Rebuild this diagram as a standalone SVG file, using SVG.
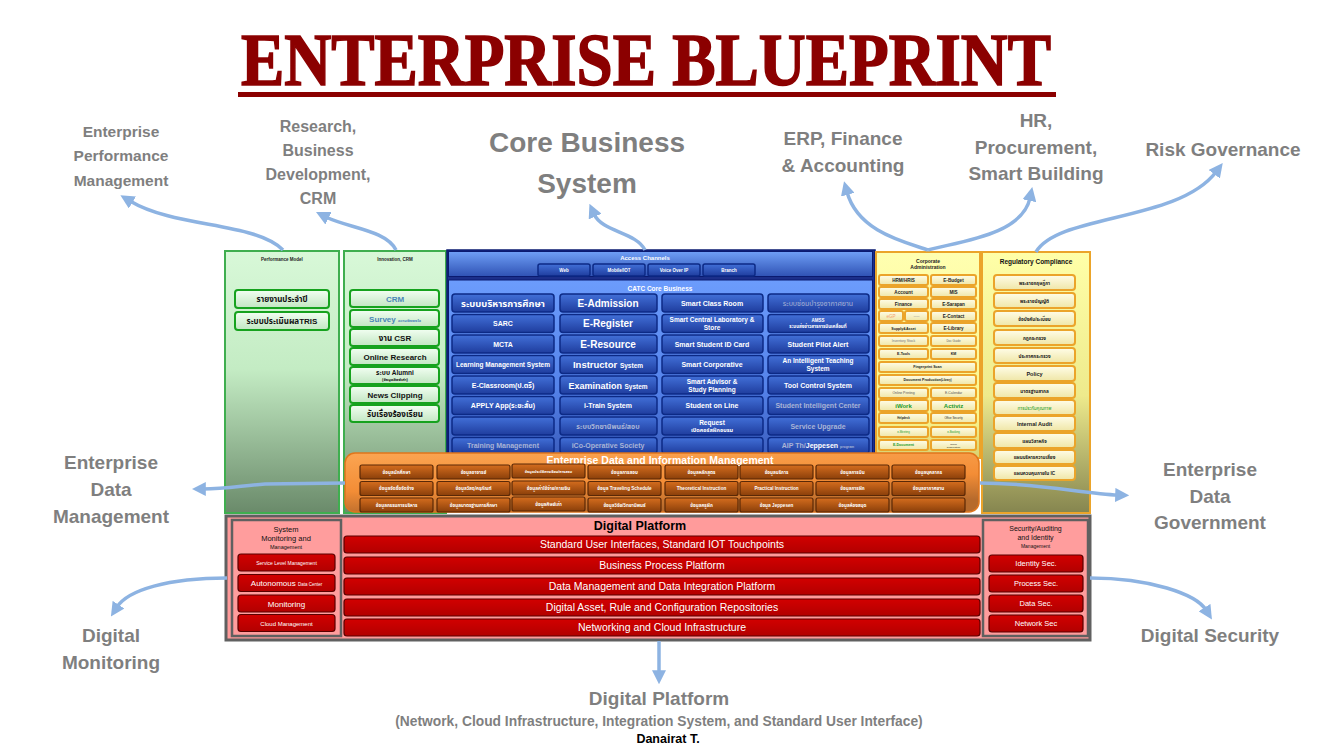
<svg xmlns="http://www.w3.org/2000/svg" width="1333" height="752" viewBox="0 0 1333 752">
  <defs>
    <linearGradient id="gGreenCol" x1="0" y1="0" x2="0" y2="1">
      <stop offset="0" stop-color="#d8f8d8"/>
      <stop offset="0.45" stop-color="#c4ecc4"/>
      <stop offset="1" stop-color="#6a8a6a"/>
    </linearGradient>
    <linearGradient id="gGreenBtn" x1="0" y1="0" x2="0" y2="1">
      <stop offset="0" stop-color="#f2fff2"/>
      <stop offset="1" stop-color="#c2e6c2"/>
    </linearGradient>
    <linearGradient id="gAccess" x1="0" y1="0" x2="0" y2="1">
      <stop offset="0" stop-color="#6f9ff6"/>
      <stop offset="1" stop-color="#2f52b4"/>
    </linearGradient>
    <linearGradient id="gCore" x1="0" y1="0" x2="0" y2="1">
      <stop offset="0" stop-color="#6c9cfc"/>
      <stop offset="0.6" stop-color="#5583ea"/>
      <stop offset="1" stop-color="#3a5cbc"/>
    </linearGradient>
    <linearGradient id="gBlueBtn" x1="0" y1="0" x2="0" y2="1">
      <stop offset="0" stop-color="#4270d8"/>
      <stop offset="1" stop-color="#1f3d9e"/>
    </linearGradient>
    <linearGradient id="gCorp" x1="0" y1="0" x2="0" y2="1">
      <stop offset="0" stop-color="#ffffb0"/>
      <stop offset="0.8" stop-color="#fbf68e"/>
      <stop offset="1" stop-color="#d8d070"/>
    </linearGradient>
    <linearGradient id="gReg" x1="0" y1="0" x2="0" y2="1">
      <stop offset="0" stop-color="#ffffa8"/>
      <stop offset="0.55" stop-color="#eeea8c"/>
      <stop offset="1" stop-color="#85854f"/>
    </linearGradient>
    <linearGradient id="gYellowBtn" x1="0" y1="0" x2="0" y2="1">
      <stop offset="0" stop-color="#fffde8"/>
      <stop offset="1" stop-color="#efe6a6"/>
    </linearGradient>
    <linearGradient id="gOrange" x1="0" y1="0" x2="0.3" y2="1">
      <stop offset="0" stop-color="#fba552"/>
      <stop offset="0.6" stop-color="#f38d36"/>
      <stop offset="1" stop-color="#b66a2c"/>
    </linearGradient>
    <linearGradient id="gBrownBtn" x1="0" y1="0" x2="0" y2="1">
      <stop offset="0" stop-color="#d56d1e"/>
      <stop offset="1" stop-color="#8a3f0a"/>
    </linearGradient>
    <linearGradient id="gRedBtn" x1="0" y1="0" x2="0" y2="1">
      <stop offset="0" stop-color="#d20000"/>
      <stop offset="1" stop-color="#b20000"/>
    </linearGradient>
    <marker id="arrowHead" viewBox="0 0 10 10" refX="2" refY="5" markerWidth="4" markerHeight="4" orient="auto" markerUnits="strokeWidth">
      <path d="M0,0 L10,5 L0,10 z" fill="#8db3e2"/>
    </marker>
    <style>
      text { font-family: "Liberation Sans", "Noto Sans Thai", "Noto Sans", sans-serif; font-weight: bold; text-anchor: middle; }
      .title { font-family: "Liberation Serif", "DejaVu Serif", serif; font-weight: 900; text-anchor: start; fill: #8b0000; stroke: #8b0000; stroke-width: 1.6; }
      .side { fill: #7f7f7f; font-size: 19px; }
      .gcol { fill: url(#gGreenCol); stroke: #3fae4f; stroke-width: 2; }
      .gbtn { fill: url(#gGreenBtn); stroke: #16a21e; stroke-width: 2; }
      .gtxt { font-size: 8px; fill: #111; }
      .bbtn { fill: url(#gBlueBtn); stroke: #0c2a86; stroke-width: 1.5; }
      .btxt { fill: #ffffff; font-size: 7px; }
      .dim { fill: #a9b4d6; }
      .ybtn { fill: url(#gYellowBtn); stroke: #eba42a; stroke-width: 2; }
      .ytxt { fill: #222; font-size: 4.6px; }
      .obtn { fill: url(#gBrownBtn); stroke: #5a2806; stroke-width: 1.2; }
      .otxt { fill: #ffffff; font-size: 4.6px; }
      .rbtn { fill: url(#gRedBtn); stroke: #5a0000; stroke-width: 1.2; }
      .rtxt { fill: #ffffff; font-weight: normal; font-size: 10.5px; }
      .sub { fill: #ff9d9d; stroke: #606060; stroke-width: 2.5; }
      .link { fill: none; stroke: #8db3e2; stroke-width: 3.5; marker-end: url(#arrowHead); }
    </style>
  </defs>

  <rect width="1333" height="752" fill="#ffffff"/>

  <!-- heading -->
  <g id="heading">
    <text class="title" x="241" y="85" font-size="73" textLength="810" lengthAdjust="spacingAndGlyphs">ENTERPRISE BLUEPRINT</text>
    <rect x="238" y="92" width="818" height="5" fill="#8b0000"/>
  </g>

  <!-- outer domain labels -->
  <g id="labels">
    <text class="side" style="font-size:15.5px" x="121" y="137">Enterprise</text>
    <text class="side" style="font-size:15.5px" x="121" y="161">Performance</text>
    <text class="side" style="font-size:15.5px" x="121" y="186">Management</text>
    <text class="side" style="font-size:16px" x="318" y="132">Research,</text>
    <text class="side" style="font-size:16px" x="318" y="156">Business</text>
    <text class="side" style="font-size:16px" x="318" y="180">Development,</text>
    <text class="side" style="font-size:16px" x="318" y="204">CRM</text>
    <text class="side" style="font-size:28px" x="587" y="152">Core Business</text>
    <text class="side" style="font-size:28px" x="587" y="193">System</text>
    <text class="side" x="843" y="145">ERP, Finance</text>
    <text class="side" x="843" y="172">&amp; Accounting</text>
    <text class="side" x="1036" y="127">HR,</text>
    <text class="side" x="1036" y="154">Procurement,</text>
    <text class="side" x="1036" y="180">Smart Building</text>
    <text class="side" x="1223" y="156">Risk Governance</text>
    <text class="side" x="111" y="469">Enterprise</text>
    <text class="side" x="111" y="496">Data</text>
    <text class="side" x="111" y="523">Management</text>
    <text class="side" x="1210" y="476">Enterprise</text>
    <text class="side" x="1210" y="503">Data</text>
    <text class="side" x="1210" y="529">Government</text>
    <text class="side" x="111" y="642">Digital</text>
    <text class="side" x="111" y="669">Monitoring</text>
    <text class="side" x="1210" y="642">Digital Security</text>
    <text class="side" x="659" y="705">Digital Platform</text>
    <text class="side" style="font-size:13.8px" x="659" y="726">(Network, Cloud Infrastructure, Integration System, and Standard User Interface)</text>
    <text style="font-size:12.5px" fill="#000" x="668" y="743">Danairat T.</text>
  </g>

  <!-- Performance Model -->
  <g id="performance-model">
    <rect class="gcol" x="225" y="251" width="114" height="262"/>
    <text x="282" y="261" style="font-size:4.5px" fill="#222">Performance Model</text>
    <rect class="gbtn" x="235" y="290" width="94" height="18" rx="3"/>
    <text class="gtxt" x="282" y="302">รายงานประจำปี</text>
    <rect class="gbtn" x="235" y="312" width="94" height="18" rx="3"/>
    <text class="gtxt" x="282" y="324">ระบบประเมินผลTRIS</text>
  </g>

  <!-- Innovation, CRM -->
  <g id="innovation-crm">
    <rect class="gcol" x="344" y="251" width="102" height="262"/>
    <text x="395" y="261" style="font-size:4.5px" fill="#222">Innovation, CRM</text>
    <rect class="gbtn" x="350" y="290" width="89" height="17" rx="3"/>
    <text class="gtxt" x="395" y="302" style="fill:#4a86b8">CRM</text>
    <rect class="gbtn" x="350" y="310" width="89" height="17" rx="3"/>
    <text class="gtxt" x="395" y="322" style="fill:#4a86b8">Survey <tspan style="font-size:4px">ความพึงพอใจ</tspan></text>
    <rect class="gbtn" x="350" y="329" width="89" height="17" rx="3"/>
    <text class="gtxt" x="395" y="341">งาน CSR</text>
    <rect class="gbtn" x="350" y="348" width="89" height="17" rx="3"/>
    <text class="gtxt" x="395" y="360">Online Research</text>
    <rect class="gbtn" x="350" y="367" width="89" height="17" rx="3"/>
    <text class="gtxt" x="395" y="375" style="font-size:6.5px">ระบบ Alumni</text>
    <text class="gtxt" x="395" y="381" style="font-size:4px">(ข้อมูลศิษย์เก่า)</text>
    <rect class="gbtn" x="350" y="386" width="89" height="17" rx="3"/>
    <text class="gtxt" x="395" y="398">News Clipping</text>
    <rect class="gbtn" x="350" y="405" width="89" height="17" rx="3"/>
    <text class="gtxt" x="395" y="417">รับเรื่องร้องเรียน</text>
  </g>

  <!-- Core Business System -->
  <g id="core-business">
    <rect x="447" y="250" width="428" height="210" fill="#1c2f8a" stroke="#0a1a70" stroke-width="1.5"/>
    <g id="access-channels">
      <rect x="448.5" y="251.5" width="424" height="25" fill="url(#gAccess)" stroke="#0a1a70" stroke-width="1"/>
      <text x="645" y="259.5" class="btxt" style="font-size:6px">Access Channels</text>
      <rect class="bbtn" x="538" y="264" width="52" height="12" rx="2"/>
      <text class="btxt" x="564" y="271.5" style="font-size:4.5px">Web</text>
      <rect class="bbtn" x="593" y="264" width="52" height="12" rx="2"/>
      <text class="btxt" x="619" y="271.5" style="font-size:4.5px">Mobile/IOT</text>
      <rect class="bbtn" x="648" y="264" width="52" height="12" rx="2"/>
      <text class="btxt" x="674" y="271.5" style="font-size:4.5px">Voice Over IP</text>
      <rect class="bbtn" x="703" y="264" width="52" height="12" rx="2"/>
      <text class="btxt" x="729" y="271.5" style="font-size:4.5px">Branch</text>
    </g>
    <rect x="448.5" y="280" width="424" height="178.5" fill="url(#gCore)" stroke="#0a1a70" stroke-width="1"/>
    <text x="660" y="291" class="btxt" style="font-size:6.5px">CATC Core Business</text>

    <!-- row 1 -->
    <rect class="bbtn" x="452" y="294" width="102" height="18" rx="3"/>
    <text class="btxt" x="503" y="306.5" style="font-size:9.5px">ระบบบริหารการศึกษา</text>
    <rect class="bbtn" x="560" y="294" width="97" height="18" rx="3"/>
    <text class="btxt" x="608" y="306.5" style="font-size:10px">E-Admission</text>
    <rect class="bbtn" x="662" y="294" width="101" height="18" rx="3"/>
    <text class="btxt" x="712" y="305.5">Smart Class Room</text>
    <rect class="bbtn" x="768" y="294" width="101" height="18" rx="3"/>
    <text class="btxt dim" x="818" y="305.5" style="font-weight:normal">ระบบซ่อมบำรุงอากาศยาน</text>
    <!-- row 2 -->
    <rect class="bbtn" x="452" y="314.5" width="102" height="18" rx="3"/>
    <text class="btxt" x="503" y="326">SARC</text>
    <rect class="bbtn" x="560" y="314.5" width="97" height="18" rx="3"/>
    <text class="btxt" x="608" y="327" style="font-size:10px">E-Register</text>
    <rect class="bbtn" x="662" y="314.5" width="101" height="18" rx="3"/>
    <text class="btxt" x="712" y="322" style="font-size:6.5px">Smart Central Laboratory  &amp;</text>
    <text class="btxt" x="712" y="330" style="font-size:6.5px">Store</text>
    <rect class="bbtn" x="768" y="314.5" width="101" height="18" rx="3"/>
    <text class="btxt" x="818" y="321.5" style="font-size:4.5px">AMSS</text>
    <text class="btxt" x="818" y="328" style="font-size:4.5px">ระบบส่งข่าวสารการบินเคลื่อนที่</text>
    <!-- row 3 -->
    <rect class="bbtn" x="452" y="335" width="102" height="18" rx="3"/>
    <text class="btxt" x="503" y="346.5">MCTA</text>
    <rect class="bbtn" x="560" y="335" width="97" height="18" rx="3"/>
    <text class="btxt" x="608" y="347.5" style="font-size:10px">E-Resource</text>
    <rect class="bbtn" x="662" y="335" width="101" height="18" rx="3"/>
    <text class="btxt" x="712" y="346.5">Smart Student ID Card</text>
    <rect class="bbtn" x="768" y="335" width="101" height="18" rx="3"/>
    <text class="btxt" x="818" y="346.5">Student Pilot Alert</text>
    <!-- row 4 -->
    <rect class="bbtn" x="452" y="355.5" width="102" height="18" rx="3"/>
    <text class="btxt" x="503" y="367" style="font-size:6.5px">Learning Management System</text>
    <rect class="bbtn" x="560" y="355.5" width="97" height="18" rx="3"/>
    <text class="btxt" x="608" y="368" style="font-size:9.5px">Instructor <tspan style="font-size:6.5px">System</tspan></text>
    <rect class="bbtn" x="662" y="355.5" width="101" height="18" rx="3"/>
    <text class="btxt" x="712" y="367">Smart Corporative</text>
    <rect class="bbtn" x="768" y="355.5" width="101" height="18" rx="3"/>
    <text class="btxt" x="818" y="363" style="font-size:6.5px">An Intelligent Teaching</text>
    <text class="btxt" x="818" y="371" style="font-size:6.5px">System</text>
    <!-- row 5 -->
    <rect class="bbtn" x="452" y="376" width="102" height="18" rx="3"/>
    <text class="btxt" x="503" y="387.5">E-Classroom(ป.ตรี)</text>
    <rect class="bbtn" x="560" y="376" width="97" height="18" rx="3"/>
    <text class="btxt" x="608" y="388.5" style="font-size:9px">Examination <tspan style="font-size:6.5px">System</tspan></text>
    <rect class="bbtn" x="662" y="376" width="101" height="18" rx="3"/>
    <text class="btxt" x="712" y="383.5" style="font-size:6.5px">Smart Advisor &amp;</text>
    <text class="btxt" x="712" y="391.5" style="font-size:6.5px">Study Planning</text>
    <rect class="bbtn" x="768" y="376" width="101" height="18" rx="3"/>
    <text class="btxt" x="818" y="387.5">Tool Control System</text>
    <!-- row 6 -->
    <rect class="bbtn" x="452" y="396.5" width="102" height="18" rx="3"/>
    <text class="btxt" x="503" y="408">APPLY App(ระยะสั้น)</text>
    <rect class="bbtn" x="560" y="396.5" width="97" height="18" rx="3"/>
    <text class="btxt" x="608" y="408">i-Train System</text>
    <rect class="bbtn" x="662" y="396.5" width="101" height="18" rx="3"/>
    <text class="btxt" x="712" y="408">Student on Line</text>
    <rect class="bbtn" x="768" y="396.5" width="101" height="18" rx="3"/>
    <text class="btxt dim" x="818" y="408">Student Intelligent Center</text>
    <!-- row 7 -->
    <rect class="bbtn" x="452" y="417" width="102" height="18" rx="3"/>
    <rect class="bbtn" x="560" y="417" width="97" height="18" rx="3"/>
    <text class="btxt dim" x="608" y="428.5">ระบบวิทยานิพนธ์/สอบ</text>
    <rect class="bbtn" x="662" y="417" width="101" height="18" rx="3"/>
    <text class="btxt" x="712" y="424.5" style="font-size:6.5px">Request</text>
    <text class="btxt" x="712" y="432" style="font-size:5.5px">เปิดคอร์สฝึกอบรม</text>
    <rect class="bbtn" x="768" y="417" width="101" height="18" rx="3"/>
    <text class="btxt dim" x="818" y="428.5">Service Upgrade</text>
    <!-- row 8 -->
    <rect class="bbtn" x="452" y="437.5" width="102" height="16" rx="3"/>
    <text class="btxt dim" x="503" y="448">Training Management</text>
    <rect class="bbtn" x="560" y="437.5" width="97" height="16" rx="3"/>
    <text class="btxt dim" x="608" y="448">iCo-Operative Society</text>
    <rect class="bbtn" x="662" y="437.5" width="101" height="16" rx="3"/>
    <rect class="bbtn" x="768" y="437.5" width="101" height="16" rx="3"/>
    <text class="btxt" x="818" y="448"><tspan class="dim">AIP Th/</tspan>Jeppesen <tspan style="font-size:3.5px" class="dim">program</tspan></text>
  </g>

  <!-- Corporate Administration -->
  <g id="corporate-admin">
    <rect x="876" y="252" width="104" height="206" fill="url(#gCorp)" stroke="#eba42a" stroke-width="2"/>
    <text x="928" y="263" style="font-size:5px" fill="#222">Corporate</text>
    <text x="928" y="269" style="font-size:5px" fill="#222">Administration</text>
    <rect class="ybtn" x="879" y="275" width="49" height="10" rx="2"/><text class="ytxt" x="903.5" y="281.6">HRM/HRIS</text>
    <rect class="ybtn" x="931" y="275" width="45" height="10" rx="2"/><text class="ytxt" x="953.5" y="281.6">E-Budget</text>
    <rect class="ybtn" x="879" y="287" width="49" height="10" rx="2"/><text class="ytxt" x="903.5" y="293.6">Account</text>
    <rect class="ybtn" x="931" y="287" width="45" height="10" rx="2"/><text class="ytxt" x="953.5" y="293.6">MIS</text>
    <rect class="ybtn" x="879" y="299" width="49" height="10" rx="2"/><text class="ytxt" x="903.5" y="305.6">Finance</text>
    <rect class="ybtn" x="931" y="299" width="45" height="10" rx="2"/><text class="ytxt" x="953.5" y="305.6">E-Sarapan</text>
    <rect class="ybtn" x="879" y="311" width="24" height="10" rx="2"/><text class="ytxt" x="891" y="317.6" style="fill:#f4a070;font-weight:normal">eGP</text>
    <rect class="ybtn" x="905" y="311" width="23" height="10" rx="2"/><text class="ytxt" x="916.5" y="317.6" style="fill:#999;font-weight:normal">----</text>
    <rect class="ybtn" x="931" y="311" width="45" height="10" rx="2"/><text class="ytxt" x="953.5" y="317.6">E-Contact</text>
    <rect class="ybtn" x="879" y="323" width="49" height="10" rx="2"/><text class="ytxt" x="903.5" y="329.6" style="font-size:3.6px">Supply&amp;Asset</text>
    <rect class="ybtn" x="931" y="323" width="45" height="10" rx="2"/><text class="ytxt" x="953.5" y="329.6">E-Library</text>
    <rect class="ybtn" x="879" y="336" width="49" height="10" rx="2"/><text class="ytxt" x="903.5" y="342.4" style="font-size:3.4px;fill:#777;font-weight:normal">Inventory Stock</text>
    <rect class="ybtn" x="931" y="336" width="45" height="10" rx="2"/><text class="ytxt" x="953.5" y="342.4" style="font-size:3px;fill:#666;font-weight:normal">Doc Guide</text>
    <rect class="ybtn" x="879" y="349" width="49" height="10" rx="2"/><text class="ytxt" x="903.5" y="355.4" style="font-size:3.6px">E-Tools</text>
    <rect class="ybtn" x="931" y="349" width="45" height="10" rx="2"/><text class="ytxt" x="953.5" y="355.4" style="font-size:3.6px">KM</text>
    <rect class="ybtn" x="879" y="362" width="97" height="10" rx="2"/><text class="ytxt" x="927.5" y="368.4" style="font-size:3.6px">Fingerprint Scan</text>
    <rect class="ybtn" x="879" y="375" width="97" height="10" rx="2"/><text class="ytxt" x="927.5" y="381.4" style="font-size:3.6px">Document Production<tspan style="font-size:2.6px">(Library)</tspan></text>
    <rect class="ybtn" x="879" y="388" width="49" height="10" rx="2"/><text class="ytxt" x="903.5" y="394.4" style="font-size:3.4px;fill:#555;font-weight:normal">Online Printing</text>
    <rect class="ybtn" x="931" y="388" width="45" height="10" rx="2"/><text class="ytxt" x="953.5" y="394.4" style="font-size:3.4px;fill:#555;font-weight:normal">E-Calendar</text>
    <rect class="ybtn" x="879" y="400" width="49" height="11" rx="2"/><text class="ytxt" x="903.5" y="407.5" style="font-size:6px;fill:#1a9a2a">iWork</text>
    <rect class="ybtn" x="931" y="400" width="45" height="11" rx="2"/><text class="ytxt" x="953.5" y="407.5" style="font-size:6px;fill:#1a9a2a">Activiz</text>
    <rect class="ybtn" x="879" y="413" width="49" height="10" rx="2"/><text class="ytxt" x="903.5" y="419.2" style="font-size:2.8px">Helpdesk</text>
    <rect class="ybtn" x="931" y="413" width="45" height="10" rx="2"/><text class="ytxt" x="953.5" y="419.2" style="font-size:2.8px;font-weight:normal">Office Security</text>
    <rect class="ybtn" x="879" y="427" width="49" height="10" rx="2"/><text class="ytxt" x="903.5" y="433.2" style="font-size:2.8px;fill:#1a9a2a;font-weight:normal">e-Meeting</text>
    <rect class="ybtn" x="931" y="427" width="45" height="10" rx="2"/><text class="ytxt" x="953.5" y="433.2" style="font-size:2.8px;fill:#1a9a2a;font-weight:normal">e-Booking</text>
    <rect class="ybtn" x="879" y="440" width="49" height="10" rx="2"/><text class="ytxt" x="903.5" y="446.4" style="font-size:3.6px;fill:#1a9a2a">E-Document</text>
    <rect class="ybtn" x="931" y="440" width="45" height="10" rx="2"/><text class="ytxt" x="953.5" y="444.6" style="font-size:2.5px;font-weight:normal">Room</text><text class="ytxt" x="953.5" y="447.8" style="font-size:2.5px;font-weight:normal">Reservation</text>
  </g>

  <!-- Regulatory Compliance -->
  <g id="regulatory-compliance">
    <rect x="982" y="252" width="108" height="261" fill="url(#gReg)" stroke="#eba42a" stroke-width="2"/>
    <text x="1036" y="264" style="font-size:6.5px" fill="#111">Regulatory Compliance</text>
    <rect class="ybtn" x="994" y="275" width="81" height="15" rx="3"/><text class="ytxt" x="1034.5" y="284.5">พระราชกฤษฎีกา</text>
    <rect class="ybtn" x="994" y="293" width="81" height="15" rx="3"/><text class="ytxt" x="1034.5" y="302.5">พระราชบัญญัติ</text>
    <rect class="ybtn" x="994" y="311" width="81" height="15" rx="3"/><text class="ytxt" x="1034.5" y="320.5">ข้อบังคับ/ระเบียบ</text>
    <rect class="ybtn" x="994" y="330" width="81" height="15" rx="3"/><text class="ytxt" x="1034.5" y="339.5">กฎกระทรวง</text>
    <rect class="ybtn" x="994" y="348" width="81" height="15" rx="3"/><text class="ytxt" x="1034.5" y="357.5">ประกาศกระทรวง</text>
    <rect class="ybtn" x="994" y="366" width="81" height="15" rx="3"/><text class="ytxt" x="1034.5" y="375.5" style="font-size:5.5px">Policy</text>
    <rect class="ybtn" x="994" y="383" width="81" height="15" rx="3"/><text class="ytxt" x="1034.5" y="392.5">มาตรฐานสากล</text>
    <rect class="ybtn" x="994" y="400" width="81" height="15" rx="3"/><text class="ytxt" x="1034.5" y="409.5" style="fill:#1a9a2a;font-weight:normal">การประกันคุณภาพ</text>
    <rect class="ybtn" x="994" y="416" width="81" height="15" rx="3"/><text class="ytxt" x="1034.5" y="425.5" style="font-size:5.5px">Internal Audit</text>
    <rect class="ybtn" x="994" y="433" width="81" height="15" rx="3"/><text class="ytxt" x="1034.5" y="442.5">แผนวิสาหกิจ</text>
    <rect class="ybtn" x="994" y="450" width="81" height="14" rx="3"/><text class="ytxt" x="1034.5" y="459">แผนบริหารความเสี่ยง</text>
    <rect class="ybtn" x="994" y="466" width="81" height="14" rx="3"/><text class="ytxt" x="1034.5" y="475">แผนควบคุมภายใน IC</text>
  </g>

  <!-- Enterprise Data and Information Management -->
  <g id="enterprise-data">
    <rect x="345" y="453" width="634" height="59" rx="10" fill="url(#gOrange)" stroke="#e0761c" stroke-width="1.5"/>
    <text x="660" y="464" fill="#ffffff" style="font-size:10.5px">Enterprise Data and Information Management</text>
    <g>
      <rect class="obtn" x="360" y="465" width="73" height="14" rx="2"/><text class="otxt" x="396.5" y="473.8">ข้อมูลนักศึกษา</text>
      <rect class="obtn" x="437" y="465" width="73" height="14" rx="2"/><text class="otxt" x="473.5" y="473.8">ข้อมูลอาจารย์</text>
      <rect class="obtn" x="512" y="464" width="73" height="14" rx="2"/><text class="otxt" x="548.5" y="472.8" style="font-size:3.8px">ข้อมูลประวัติการเรียน/การสอบ</text>
      <rect class="obtn" x="588" y="465" width="73" height="14" rx="2"/><text class="otxt" x="624.5" y="473.8">ข้อมูลการสอบ</text>
      <rect class="obtn" x="665" y="465" width="73" height="14" rx="2"/><text class="otxt" x="701.5" y="473.8">ข้อมูลหลักสูตร</text>
      <rect class="obtn" x="740" y="465" width="73" height="14" rx="2"/><text class="otxt" x="776.5" y="473.8">ข้อมูลบริการ</text>
      <rect class="obtn" x="816" y="465" width="73" height="14" rx="2"/><text class="otxt" x="852.5" y="473.8">ข้อมูลการบิน</text>
      <rect class="obtn" x="892" y="465" width="73" height="14" rx="2"/><text class="otxt" x="928.5" y="473.8">ข้อมูลบุคลากร</text>

      <rect class="obtn" x="360" y="481.5" width="73" height="14" rx="2"/><text class="otxt" x="396.5" y="490.3">ข้อมูลจัดซื้อจัดจ้าง</text>
      <rect class="obtn" x="437" y="481.5" width="73" height="14" rx="2"/><text class="otxt" x="473.5" y="490.3">ข้อมูลวัสดุ/ครุภัณฑ์</text>
      <rect class="obtn" x="512" y="481" width="73" height="14" rx="2"/><text class="otxt" x="548.5" y="489.8">ข้อมูลค่าใช้จ่าย/การเงิน</text>
      <rect class="obtn" x="588" y="481.5" width="73" height="14" rx="2"/><text class="otxt" x="624.5" y="490.3">ข้อมูล Traveling Schedule</text>
      <rect class="obtn" x="665" y="481.5" width="73" height="14" rx="2"/><text class="otxt" x="701.5" y="490.3">Theoretical Instruction</text>
      <rect class="obtn" x="740" y="481.5" width="73" height="14" rx="2"/><text class="otxt" x="776.5" y="490.3">Practical Instruction</text>
      <rect class="obtn" x="816" y="481.5" width="73" height="14" rx="2"/><text class="otxt" x="852.5" y="490.3">ข้อมูลการฝึก</text>
      <rect class="obtn" x="892" y="481.5" width="73" height="14" rx="2"/><text class="otxt" x="928.5" y="490.3">ข้อมูลอากาศยาน</text>

      <rect class="obtn" x="360" y="498" width="73" height="14" rx="2"/><text class="otxt" x="396.5" y="506.8">ข้อมูลกรรมการบริหาร</text>
      <rect class="obtn" x="437" y="498" width="73" height="14" rx="2"/><text class="otxt" x="473.5" y="506.8">ข้อมูลมาตรฐานการศึกษา</text>
      <rect class="obtn" x="512" y="497" width="73" height="14" rx="2"/><text class="otxt" x="548.5" y="505.8">ข้อมูลศิษย์เก่า</text>
      <rect class="obtn" x="588" y="498" width="73" height="14" rx="2"/><text class="otxt" x="624.5" y="506.8">ข้อมูลวิจัย/วิทยานิพนธ์</text>
      <rect class="obtn" x="665" y="498" width="73" height="14" rx="2"/><text class="otxt" x="701.5" y="506.8">ข้อมูลครูฝึก</text>
      <rect class="obtn" x="740" y="498" width="73" height="14" rx="2"/><text class="otxt" x="776.5" y="506.8">ข้อมูล Jeppesen</text>
      <rect class="obtn" x="816" y="498" width="73" height="14" rx="2"/><text class="otxt" x="852.5" y="506.8">ข้อมูลห้องสมุด</text>
      <rect class="obtn" x="892" y="498" width="73" height="14" rx="2"/>
    </g>
  </g>

  <!-- Digital Platform -->
  <g id="digital-platform">
    <rect x="226" y="516" width="864" height="124" fill="#ff9b9b" stroke="#606060" stroke-width="3"/>
    <g id="system-monitoring">
      <rect class="sub" x="232" y="520" width="109" height="116"/>
      <text x="286" y="532" style="font-size:7.5px;font-weight:normal" fill="#111">System</text>
      <text x="286" y="541" style="font-size:7.5px;font-weight:normal" fill="#111">Monitoring and</text>
      <text x="286" y="549" style="font-size:5.5px;font-weight:normal" fill="#111">Management</text>
      <rect class="rbtn" x="238" y="554" width="97" height="17" rx="3"/>
      <text class="rtxt" x="286.5" y="564.5" style="font-size:5px">Service Level Management</text>
      <rect class="rbtn" x="238" y="574.5" width="97" height="17" rx="3"/>
      <text class="rtxt" x="286.5" y="586" style="font-size:8px">Autonomous <tspan style="font-size:4.5px">Data Center</tspan></text>
      <rect class="rbtn" x="238" y="595" width="97" height="17" rx="3"/>
      <text class="rtxt" x="286.5" y="606.5" style="font-size:8px">Monitoring</text>
      <rect class="rbtn" x="238" y="614.5" width="97" height="17" rx="3"/>
      <text class="rtxt" x="286.5" y="625.5" style="font-size:6px">Cloud Management</text>
    </g>
    <g id="platform-layers">
      <text x="640" y="530" style="font-size:12.5px" fill="#000">Digital Platform</text>
      <rect class="rbtn" x="344" y="536" width="636" height="17" rx="3"/>
      <text class="rtxt" x="662" y="548">Standard User Interfaces, Standard IOT Touchpoints</text>
      <rect class="rbtn" x="344" y="557" width="636" height="17" rx="3"/>
      <text class="rtxt" x="662" y="569">Business Process Platform</text>
      <rect class="rbtn" x="344" y="578" width="636" height="17" rx="3"/>
      <text class="rtxt" x="662" y="590">Data Management and Data Integration Platform</text>
      <rect class="rbtn" x="344" y="599" width="636" height="17" rx="3"/>
      <text class="rtxt" x="662" y="611">Digital Asset, Rule and Configuration Repositories</text>
      <rect class="rbtn" x="344" y="619" width="636" height="17" rx="3"/>
      <text class="rtxt" x="662" y="631">Networking and Cloud Infrastructure</text>
    </g>
    <g id="security-auditing">
      <rect class="sub" x="983" y="520" width="105" height="116"/>
      <text x="1035.5" y="531" style="font-size:7px;font-weight:normal" fill="#111">Security/Auditing</text>
      <text x="1035.5" y="540" style="font-size:7px;font-weight:normal" fill="#111">and Identity</text>
      <text x="1035.5" y="548" style="font-size:5px;font-weight:normal" fill="#111">Management</text>
      <rect class="rbtn" x="989" y="555" width="94" height="17" rx="3"/>
      <text class="rtxt" x="1036" y="566" style="font-size:7.5px">Identity Sec.</text>
      <rect class="rbtn" x="989" y="575" width="94" height="17" rx="3"/>
      <text class="rtxt" x="1036" y="586" style="font-size:7.5px">Process Sec.</text>
      <rect class="rbtn" x="989" y="595" width="94" height="17" rx="3"/>
      <text class="rtxt" x="1036" y="606" style="font-size:7.5px">Data Sec.</text>
      <rect class="rbtn" x="989" y="615" width="94" height="17" rx="3"/>
      <text class="rtxt" x="1036" y="626" style="font-size:7.5px">Network Sec</text>
    </g>
  </g>

  <!-- connectors -->
  <g id="connectors">
    <path class="link" d="M283,250 C255,222 175,228 130,201"/>
    <path class="link" d="M396,250 C386,230 348,228 326,217"/>
    <path class="link" d="M645,250 C636,232 602,232 594,214"/>
    <path class="link" d="M928,250 C905,242 858,232 847,192"/>
    <path class="link" d="M928,250 C955,242 1022,236 1030,198"/>
    <path class="link" d="M1036,252 C1058,214 1178,222 1216,172"/>
    <path class="link" d="M345,483 L265,484 C240,486 225,489 203,489"/>
    <path class="link" d="M980,483 C1040,483 1085,494 1118,495"/>
    <path class="link" d="M227,578 C168,578 128,590 117,607"/>
    <path class="link" d="M1090,578 C1150,578 1196,594 1206,610"/>
    <path class="link" d="M659,641 L659,673"/>
  </g>
</svg>
